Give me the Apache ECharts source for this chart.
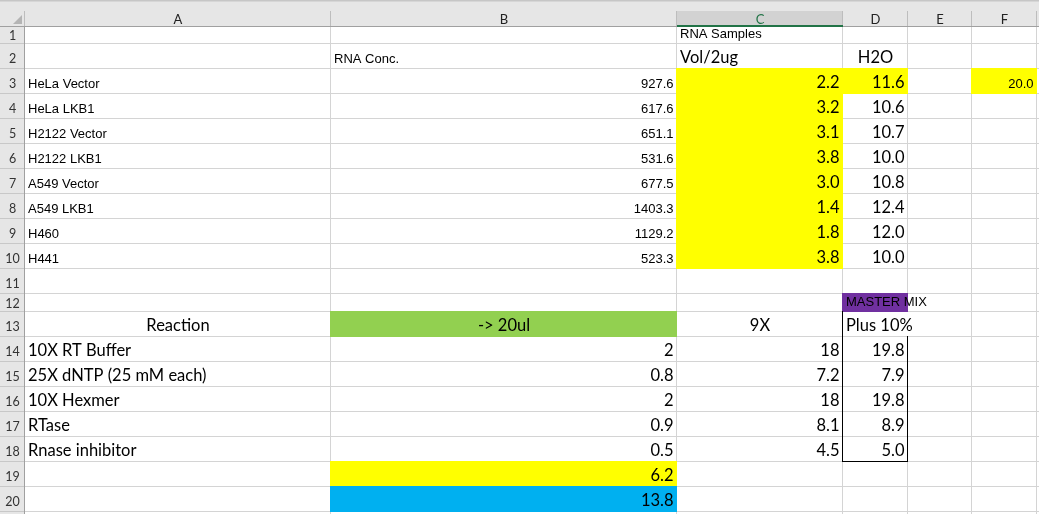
<!DOCTYPE html>
<html>
<head>
<meta charset="utf-8">
<script src="https://cdn.jsdelivr.net/npm/echarts@6/dist/echarts.min.js"></script>
<style>
html, body { margin: 0; padding: 0; background: #fff; }
#sheet { width: 1039px; height: 514px; }
</style>
</head>
<body>
<div id="sheet"></div>
<script>
// ---- sheet contents ----
var columnLetters = ['A', 'B', 'C', 'D', 'E', 'F', 'G'];
var sampleNames = ['HeLa Vector', 'HeLa LKB1', 'H2122 Vector', 'H2122 LKB1', 'A549 Vector', 'A549 LKB1', 'H460', 'H441'];
var rnaConc = [927.6, 617.6, 651.1, 531.6, 677.5, 1403.3, 1129.2, 523.3];
var volPer2ug = [2.2, 3.2, 3.1, 3.8, 3.0, 1.4, 1.8, 3.8];
var waterVol = [11.6, 10.6, 10.7, 10.0, 10.8, 12.4, 12.0, 10.0];
var totalVol = [20.0];
var reagents = ['10X RT Buffer', '25X dNTP (25 mM each)', '10X Hexmer', 'RTase', 'Rnase inhibitor'];
var perReaction = [2, 0.8, 2, 0.9, 0.5];
var nineX = [18, 7.2, 18, 8.1, 4.5];
var plusTen = [19.8, 7.9, 19.8, 8.9, 5.0];
var reagentSum = [6.2];
var rnaPlusWater = [13.8];

// ---- layout (sheet units = px) ----
var colWidths = [25, 306, 346, 166, 65, 64, 65, 80];   // row-number column, then A..G
var topStrip = 11, headHeight = 16;
var rowHeights = [17, 25, 25, 25, 25, 25, 25, 25, 25, 25, 25, 18, 25, 25, 25, 25, 25, 25, 25, 25, 25];
var selectedCol = 3; // C
var fonts = {
  arial: '13px "Liberation Sans", Arial, sans-serif',
  calibri: '16.5px Lato, sans-serif'
};
var YELLOW = '#FFFF00', GREEN = '#92D050', PURPLE = '#7030A0', BLUE = '#00B0F0';

var colEdge = [0];
colWidths.forEach(function (w) { colEdge.push(colEdge[colEdge.length - 1] + w); });
var rowEdge = [0, topStrip + headHeight]; // rowEdge[r] = top of row r
rowHeights.forEach(function (h) { rowEdge.push(rowEdge[rowEdge.length - 1] + h); });
var nRows = rowHeights.length;

// ---- cells ----
var cells = [];
function put(col, row, text, kind, align) { cells.push({ col: col, row: row, text: text, kind: kind, align: align }); }
put(3, 1, 'RNA Samples', 'arial', 'left');
put(2, 2, 'RNA Conc.', 'arial', 'left');
put(3, 2, 'Vol/2ug', 'calibri', 'left');
put(4, 2, 'H2O', 'calibri', 'center');
sampleNames.forEach(function (n, i) {
  put(1, 3 + i, n, 'arial', 'left');
  put(2, 3 + i, rnaConc[i].toFixed(1), 'arial', 'right');
  put(3, 3 + i, volPer2ug[i].toFixed(1), 'calibri', 'right');
  put(4, 3 + i, waterVol[i].toFixed(1), 'calibri', 'right');
});
put(6, 3, totalVol[0].toFixed(1), 'arial', 'right');
put(4, 12, 'MASTER MIX', 'arial', 'left');
put(1, 13, 'Reaction', 'calibri', 'center');
put(2, 13, '-> 20ul', 'calibri', 'center');
put(3, 13, '9X', 'calibri', 'center');
put(4, 13, 'Plus 10%', 'calibri', 'left');
reagents.forEach(function (n, i) {
  put(1, 14 + i, n, 'calibri', 'left');
  put(2, 14 + i, String(perReaction[i]), 'calibri', 'right');
  put(3, 14 + i, String(nineX[i]), 'calibri', 'right');
  put(4, 14 + i, plusTen[i].toFixed(1), 'calibri', 'right');
});
put(2, 19, reagentSum[0].toFixed(1), 'calibri', 'right');
put(2, 20, rnaPlusWater[0].toFixed(1), 'calibri', 'right');

var fills = [
  [3, 3, 10, YELLOW], [4, 3, 3, YELLOW], [6, 3, 3, YELLOW],
  [4, 12, 12, PURPLE], [2, 13, 13, GREEN], [2, 19, 19, YELLOW], [2, 20, 20, BLUE]
];
// right gridline hidden where text spills over
var spill = { '4_12': 1, '4_13': 1 };
// black box round the master mix column: [col, row, sides]
var borders = [[4, 13, 'l'], [4, 14, 'lr'], [4, 15, 'lr'], [4, 16, 'lr'], [4, 17, 'lr'], [4, 18, 'lrb']];

var gridItems = [];
for (var r = 1; r <= nRows; r++) for (var c = 1; c < colWidths.length; c++) gridItems.push([c, r]);
var rowItems = [];
for (var r2 = 1; r2 <= nRows; r2++) rowItems.push([r2]);
var headItems = columnLetters.map(function (l, i) { return [i + 1]; });

function pt(api, x, y) { return api.coord([x, y]); }

var chart = echarts.init(document.getElementById('sheet'), null, { renderer: 'canvas' });
chart.setOption({
  animation: false,
  grid: { left: 0, right: 0, top: 0, bottom: 0 },
  xAxis: { type: 'value', min: 0, max: 1039, show: false },
  yAxis: { type: 'value', min: 0, max: 514, inverse: true, show: false },
  series: [
    { // gridlines
      type: 'custom', z: 1, clip: false, silent: true,
      data: gridItems,
      renderItem: function (params, api) {
        var c = api.value(0), r = api.value(1);
        var a = pt(api, colEdge[c], rowEdge[r]), b = pt(api, colEdge[c + 1], rowEdge[r + 1]);
        var kids = [{ type: 'line', shape: { x1: a[0], y1: b[1] - 0.5, x2: b[0], y2: b[1] - 0.5 }, style: { stroke: '#d4d4d4', lineWidth: 1 } }];
        if (!spill[c + '_' + r]) kids.push({ type: 'line', shape: { x1: b[0] - 0.5, y1: a[1], x2: b[0] - 0.5, y2: b[1] }, style: { stroke: '#d4d4d4', lineWidth: 1 } });
        return { type: 'group', children: kids };
      }
    },
    { // cell fills
      type: 'custom', z: 2, clip: false, silent: true,
      data: fills.map(function (f, i) { return [f[0], f[1], f[2], i]; }),
      renderItem: function (params, api) {
        var f = fills[api.value(3)];
        var a = pt(api, colEdge[f[0]], rowEdge[f[1]]), b = pt(api, colEdge[f[0] + 1], rowEdge[f[2] + 1]);
        return { type: 'rect', shape: { x: a[0] - 1, y: a[1] - 1, width: b[0] - a[0] + 1, height: b[1] - a[1] + 1 }, style: { fill: f[3] } };
      }
    },
    { // black borders
      type: 'custom', z: 3, clip: false, silent: true,
      data: borders.map(function (bd, i) { return [bd[0], bd[1], i]; }),
      renderItem: function (params, api) {
        var bd = borders[api.value(2)];
        var a = pt(api, colEdge[bd[0]], rowEdge[bd[1]]), b = pt(api, colEdge[bd[0] + 1], rowEdge[bd[1] + 1]);
        var st = { stroke: '#000', lineWidth: 1 }, kids = [];
        if (bd[2].indexOf('l') >= 0) kids.push({ type: 'line', shape: { x1: a[0] - 0.5, y1: a[1] - 1, x2: a[0] - 0.5, y2: b[1] }, style: st });
        if (bd[2].indexOf('r') >= 0) kids.push({ type: 'line', shape: { x1: b[0] - 0.5, y1: a[1] - 1, x2: b[0] - 0.5, y2: b[1] }, style: st });
        if (bd[2].indexOf('b') >= 0) kids.push({ type: 'line', shape: { x1: a[0] - 1, y1: b[1] - 0.5, x2: b[0], y2: b[1] - 0.5 }, style: st });
        return { type: 'group', children: kids };
      }
    },
    { // cell text
      type: 'custom', z: 4, clip: false, silent: true,
      data: cells.map(function (cl, i) { return [cl.col, cl.row, i]; }),
      renderItem: function (params, api) {
        var cl = cells[api.value(2)];
        var a = pt(api, colEdge[cl.col], rowEdge[cl.row]), b = pt(api, colEdge[cl.col + 1], rowEdge[cl.row + 1]);
        var x = cl.align === 'left' ? a[0] + 3 : cl.align === 'right' ? b[0] - 3.5 : (a[0] + b[0]) / 2;
        var y = b[1] - (cl.kind === 'arial' ? 9.7 : 11);
        return { type: 'text', x: x, y: y, style: { text: cl.text, font: fonts[cl.kind], fill: '#000', align: cl.align, verticalAlign: 'middle' } };
      }
    },
    { // column header
      type: 'custom', z: 5, clip: false, silent: true,
      data: headItems,
      renderItem: function (params, api) {
        var c = api.value(0), sel = c === selectedCol;
        var a = pt(api, colEdge[c], topStrip), b = pt(api, colEdge[c + 1], rowEdge[1]);
        var kids = [
          { type: 'rect', shape: { x: a[0], y: a[1], width: b[0] - a[0], height: b[1] - a[1] }, style: { fill: sel ? '#d2d2d2' : '#e6e6e6' } },
          { type: 'line', shape: { x1: b[0] - 0.5, y1: a[1], x2: b[0] - 0.5, y2: b[1] }, style: { stroke: '#bdbdbd', lineWidth: 1 } },
          { type: 'line', shape: { x1: a[0], y1: b[1] - 0.5, x2: b[0], y2: b[1] - 0.5 }, style: { stroke: '#a0a0a0', lineWidth: 1 } },
          { type: 'text', x: (a[0] + b[0]) / 2, y: (a[1] + b[1]) / 2 + 0.5, style: { text: columnLetters[c - 1], font: '13px Lato, sans-serif', fill: sel ? '#217346' : '#222', align: 'center', verticalAlign: 'middle' } }
        ];
        if (sel) kids.push({ type: 'rect', shape: { x: a[0], y: b[1] - 2, width: b[0] - a[0], height: 2 }, style: { fill: '#217346' } });
        return { type: 'group', children: kids };
      }
    },
    { // row numbers
      type: 'custom', z: 5, clip: false, silent: true,
      data: rowItems,
      renderItem: function (params, api) {
        var r = api.value(0);
        var a = pt(api, 0, rowEdge[r]), b = pt(api, colEdge[1], rowEdge[r + 1]);
        var h = b[1] - a[1];
        return { type: 'group', children: [
          { type: 'rect', shape: { x: a[0], y: a[1], width: b[0] - a[0], height: h }, style: { fill: '#e6e6e6' } },
          { type: 'line', shape: { x1: a[0], y1: b[1] - 0.5, x2: b[0], y2: b[1] - 0.5 }, style: { stroke: '#c8c8c8', lineWidth: 1 } },
          { type: 'line', shape: { x1: b[0] - 0.5, y1: a[1], x2: b[0] - 0.5, y2: b[1] }, style: { stroke: '#a0a0a0', lineWidth: 1 } },
          { type: 'text', x: (a[0] + b[0]) / 2, y: a[1] + h / 2 + 0.7 + (h - 17) * 0.25, style: { text: String(r), font: '12.5px Lato, sans-serif', fill: '#333', align: 'center', verticalAlign: 'middle' } }
        ] };
      }
    },
    { // corner and top strip
      type: 'custom', z: 5, clip: false, silent: true,
      data: [[0, 0]],
      renderItem: function (params, api) {
        var o = pt(api, 0, 0), e = pt(api, 1039, topStrip), k = pt(api, colEdge[1], rowEdge[1]);
        return { type: 'group', children: [
          { type: 'rect', shape: { x: o[0], y: o[1], width: e[0] - o[0], height: e[1] - o[1] }, style: { fill: '#e6e6e6' } },
          { type: 'rect', shape: { x: o[0], y: o[1], width: e[0] - o[0], height: 1.5 }, style: { fill: '#c6c6c6' } },
          { type: 'rect', shape: { x: o[0], y: e[1], width: k[0] - o[0], height: k[1] - e[1] }, style: { fill: '#e6e6e6' } },
          { type: 'line', shape: { x1: k[0] - 0.5, y1: e[1], x2: k[0] - 0.5, y2: k[1] }, style: { stroke: '#bdbdbd', lineWidth: 1 } },
          { type: 'line', shape: { x1: o[0], y1: k[1] - 0.5, x2: k[0], y2: k[1] - 0.5 }, style: { stroke: '#a0a0a0', lineWidth: 1 } },
          { type: 'polygon', shape: { points: [[k[0] - 3, e[1] + 4], [k[0] - 3, k[1] - 3], [k[0] - 12, k[1] - 3]] }, style: { fill: '#b4b4b4' } }
        ] };
      }
    }
  ]
});
</script>
</body>
</html>
